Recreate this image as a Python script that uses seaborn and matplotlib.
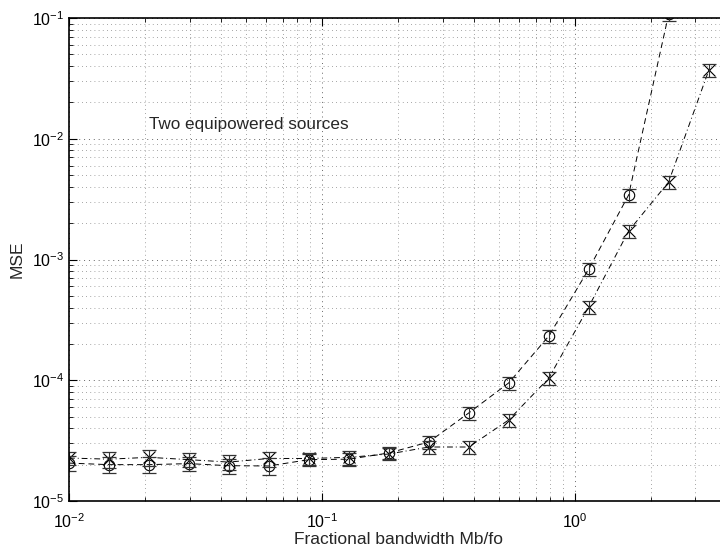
import numpy as np
import pandas as pd
import matplotlib
matplotlib.use("Agg")
import matplotlib.pyplot as plt
import seaborn as sns
from matplotlib.ticker import LogLocator, NullFormatter

# Fractional bandwidth values at which MSE was evaluated
bandwidth = [0.01, 0.0144, 0.0207, 0.0298, 0.0428, 0.0617, 0.0888, 0.128,
             0.184, 0.265, 0.381, 0.548, 0.789, 1.135, 1.633, 2.35, 3.39]

# MSE, estimator with circle markers
mse_circle = [2.06e-5, 2.0e-5, 2.0e-5, 2.04e-5, 1.96e-5, 1.95e-5, 2.2e-5, 2.22e-5,
              2.5e-5, 3.08e-5, 5.36e-5, 9.5e-5, 2.32e-4, 8.3e-4, 3.42e-3, 1.07e-1]
err_circle = [0.30e-5, 0.30e-5, 0.30e-5, 0.28e-5, 0.28e-5, 0.30e-5, 0.25e-5, 0.28e-5,
              0.28e-5, 0.40e-5, 0.65e-5, 1.2e-5, 2.8e-5, 1.0e-4, 4.2e-4, 1.2e-2]

# MSE, estimator with cross markers
mse_cross = [2.27e-5, 2.22e-5, 2.3e-5, 2.2e-5, 2.1e-5, 2.25e-5, 2.25e-5, 2.3e-5,
             2.45e-5, 2.8e-5, 2.8e-5, 4.69e-5, 1.04e-4, 4.05e-4, 1.72e-3, 4.38e-3, 3.7e-2]
err_cross = [0.30e-5, 0.35e-5, 0.35e-5, 0.30e-5, 0.30e-5, 0.32e-5, 0.25e-5, 0.30e-5,
             0.28e-5, 0.35e-5, 0.35e-5, 0.60e-5, 1.3e-5, 5.0e-5, 2.1e-4, 5.5e-4, 4.5e-3]

sns.set_style("ticks")
plt.rcParams["font.family"] = ["Liberation Sans", "DejaVu Sans"]
plt.rcParams["mathtext.fontset"] = "custom"
plt.rcParams["mathtext.rm"] = "Liberation Sans"
plt.rcParams["mathtext.it"] = "Liberation Sans:italic"
plt.rcParams["mathtext.bf"] = "Liberation Sans:bold"

fig = plt.figure(figsize=(7.2, 5.48), dpi=100)
ax = fig.add_axes([69 / 720, 47 / 548, 658 / 720, 483 / 548])

df_c = pd.DataFrame({"bw": bandwidth[:len(mse_circle)], "mse": mse_circle})
df_x = pd.DataFrame({"bw": bandwidth[:len(mse_cross)], "mse": mse_cross})

sns.lineplot(data=df_c, x="bw", y="mse", ax=ax, color="black", lw=0.7,
             linestyle=(0, (6, 4)), marker="o", markersize=7.5,
             markerfacecolor="none", markeredgecolor="black", markeredgewidth=0.8,
             clip_on=True)
sns.lineplot(data=df_x, x="bw", y="mse", ax=ax, color="black", lw=0.7,
             linestyle=(0, (6, 3, 1, 3)), marker="x", markersize=8,
             markeredgecolor="black", markeredgewidth=0.8, clip_on=True)

ax.errorbar(df_c["bw"], df_c["mse"], yerr=err_circle, fmt="none",
            ecolor="#333333", elinewidth=0.8, capsize=5, capthick=0.9)
ax.errorbar(df_x["bw"], df_x["mse"], yerr=err_cross, fmt="none",
            ecolor="#333333", elinewidth=0.8, capsize=5, capthick=0.9)

ax.set_xscale("log")
ax.set_yscale("log")
ax.set_xlim(1e-2, 4)
ax.set_ylim(1e-5, 1e-1)

ax.xaxis.set_major_locator(LogLocator(base=10, numticks=10))
ax.xaxis.set_minor_locator(LogLocator(base=10, subs=np.arange(2, 10), numticks=20))
ax.yaxis.set_major_locator(LogLocator(base=10, numticks=10))
ax.yaxis.set_minor_locator(LogLocator(base=10, subs=np.arange(2, 10), numticks=20))
ax.xaxis.set_minor_formatter(NullFormatter())
ax.yaxis.set_minor_formatter(NullFormatter())

dot = (0, (1, 4))
ax.grid(True, which="major", color="#666666", linestyle=dot, linewidth=0.7)
ax.grid(True, which="minor", color="#888888", linestyle=dot, linewidth=0.6)

for side in ("top", "bottom", "left"):
    ax.spines[side].set_visible(True)
    ax.spines[side].set_linewidth(1.2)
    ax.spines[side].set_color("black")
ax.spines["right"].set_visible(False)

ax.tick_params(which="both", direction="in", top=True, right=False,
               labelsize=11.5, colors="black")
ax.tick_params(which="major", length=6, width=0.8)
ax.tick_params(which="minor", length=3, width=0.6)
ax.tick_params(axis="x", pad=8)

ax.set_xlabel("Fractional bandwidth Mb/fo", fontsize=12.5, labelpad=1)
ax.set_ylabel("MSE", fontsize=12.5, labelpad=5)

ax.text(0.0207, 1.3e-2, "Two equipowered sources", fontsize=12.3,
        ha="left", va="center")

fig.savefig("out.png", dpi=100)
